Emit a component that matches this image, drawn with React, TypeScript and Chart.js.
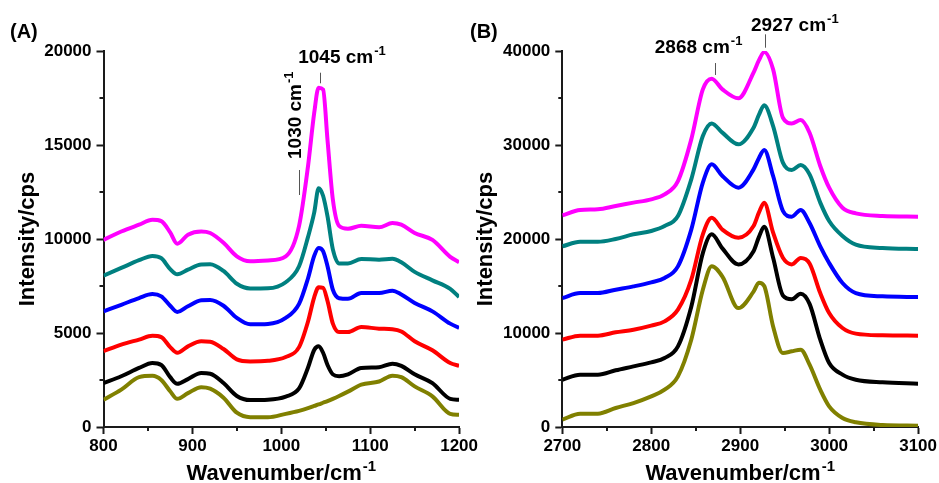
import React, { useEffect, useRef } from "react";
import { Chart, registerables } from "chart.js";

Chart.register(...registerables);

const FONT = "'Liberation Sans', Arial, Helvetica, sans-serif";
const AXIS_COLOR = "#1a1a1a";

// ---------- Panel A (800–1200 cm-1) ----------
const wavenumberA = [800, 820, 840, 855, 865, 875, 883, 895, 910, 920, 935, 950, 965, 985, 1005, 1020, 1030, 1037, 1042, 1047, 1052, 1058, 1065, 1075, 1090, 1110, 1125, 1135, 1150, 1170, 1190, 1200];
const oliveA = [1450, 1990, 2650, 2720, 2500, 1900, 1500, 1800, 2120, 2040, 1560, 760, 520, 520, 700, 860, 1000, 1120, 1200, 1290, 1380, 1500, 1650, 1880, 2250, 2420, 2730, 2650, 2160, 1630, 700, 650];
const blackA = [2340, 2700, 3140, 3400, 3300, 2650, 2300, 2550, 2870, 2830, 2340, 1650, 1430, 1450, 1620, 2050, 3150, 4100, 4290, 3950, 3300, 2800, 2700, 2800, 3140, 3180, 3370, 3250, 2800, 2330, 1500, 1450];
const redA = [4030, 4380, 4650, 4850, 4780, 4250, 3950, 4290, 4560, 4540, 4150, 3600, 3490, 3520, 3720, 4250, 5600, 6900, 7430, 7400, 6700, 5500, 5050, 5050, 5320, 5230, 5200, 5080, 4560, 4080, 3400, 3260];
const blueA = [6150, 6500, 6860, 7070, 6950, 6450, 6120, 6420, 6740, 6760, 6450, 5800, 5460, 5480, 5800, 6550, 7900, 9100, 9520, 9350, 8550, 7300, 6850, 6820, 7130, 7130, 7250, 7050, 6600, 6150, 5500, 5270];
const tealA = [8050, 8460, 8870, 9100, 8980, 8400, 8120, 8370, 8650, 8660, 8300, 7620, 7370, 7380, 7700, 8550, 10100, 11400, 12700, 12300, 11200, 9450, 8700, 8700, 8940, 8900, 8950, 8760, 8250, 7800, 7350, 6920];
const magentaA = [9950, 10400, 10760, 11020, 10950, 10350, 9750, 10230, 10400, 10320, 9800, 9080, 8820, 8860, 9080, 10700, 13850, 16700, 18050, 17950, 15260, 12100, 10700, 10550, 10700, 10620, 10850, 10760, 10320, 9950, 9050, 8760];

// ---------- Panel B (2700–3100 cm-1) ----------
const wavenumberB = [2700, 2720, 2740, 2760, 2780, 2800, 2815, 2830, 2845, 2858, 2868, 2880, 2898, 2915, 2921, 2927, 2937, 2948, 2958, 2968, 2978, 2990, 3000, 3015, 3030, 3060, 3100];
const oliveB = [780, 1420, 1420, 2020, 2550, 3260, 3970, 5390, 9290, 14600, 17100, 16000, 12650, 14400, 15350, 15000, 10700, 7870, 8050, 8230, 6630, 3970, 2200, 960, 500, 210, 140];
const blackB = [5030, 5570, 5570, 6030, 6450, 6880, 7340, 8580, 12800, 18500, 20500, 19000, 17300, 18700, 20200, 21300, 18000, 14000, 13600, 14180, 13100, 9290, 6800, 5570, 5030, 4750, 4610];
const redB = [9290, 9720, 9720, 10070, 10350, 10780, 11240, 12480, 15670, 20500, 22270, 21000, 20140, 21380, 22800, 23860, 20670, 18000, 17300, 17980, 17400, 14250, 12130, 10530, 9930, 9750, 9720];
const blueB = [13720, 14250, 14250, 14610, 14960, 15390, 15850, 17090, 21000, 26000, 27940, 26700, 25460, 27410, 28600, 29470, 26700, 23000, 22380, 23090, 21700, 19220, 17450, 15320, 14250, 13900, 13830];
const tealB = [19220, 19700, 19700, 20000, 20500, 20850, 21380, 22450, 26350, 30960, 32300, 31310, 30070, 31840, 33200, 34220, 32020, 28120, 27340, 27870, 26880, 23870, 21920, 20320, 19400, 19040, 18940];
const magentaB = [22520, 23090, 23160, 23510, 23870, 24220, 24750, 26170, 30600, 35920, 37060, 35920, 34970, 37700, 39000, 39890, 38050, 32900, 32300, 32660, 31310, 27770, 25460, 23330, 22730, 22450, 22380];

const seriesColors = ["#808000", "#000000", "#FF0000", "#0000FF", "#008080", "#FF00FF"];

// Axis ranges / ticks
const xRangeA = [800, 1200];
const xStepA = 100;
const yRangeA = [0, 20000];
const yStepA = 5000;
const xRangeB = [2700, 3100];
const xStepB = 100;
const yRangeB = [0, 40000];
const yStepB = 10000;

// Annotations (positions in data units)
type Note = { text: string; sup: string; tx: number; ty: number; rotated: boolean; lx: number; ly1: number; ly2: number };
const notesA: Note[] = [
  { text: "1045 cm", sup: "-1", tx: 1019, ty: 19345, rotated: false, lx: 1043.6, ly1: 18845, ly2: 18282 },
  { text: "1030 cm", sup: "-1", tx: 1021.9, ty: 14255, rotated: true, lx: 1020, ly1: 13670, ly2: 12340 },
];
const notesB: Note[] = [
  { text: "2868 cm", sup: "-1", tx: 2804, ty: 39755, rotated: false, lx: 2872, ly1: 38720, ly2: 37450 },
  { text: "2927 cm", sup: "-1", tx: 2912.2, ty: 42128, rotated: false, lx: 2927.4, ly1: 41775, ly2: 40350 },
];

function drawSup(ctx: CanvasRenderingContext2D, base: string, sup: string, x: number, y: number, size: number, supSize: number, align: "left" | "center") {
  ctx.textBaseline = "alphabetic";
  ctx.textAlign = "left";
  ctx.font = `bold ${size}px ${FONT}`;
  const w1 = ctx.measureText(base).width;
  ctx.font = `bold ${supSize}px ${FONT}`;
  const w2 = ctx.measureText(sup).width;
  const x0 = align === "center" ? x - (w1 + w2 + 1) / 2 : x;
  ctx.font = `bold ${size}px ${FONT}`;
  ctx.fillText(base, x0, y);
  ctx.font = `bold ${supSize}px ${FONT}`;
  ctx.fillText(sup, x0 + w1 + 1, y - size * 0.42);
}

type PanelCfg = {
  label: string;
  wn: number[];
  series: number[][];
  xRange: number[];
  xStep: number;
  yRange: number[];
  yStep: number;
  yAxisWidth: number;
  padRight: number;
  yTitleX: number;
  notes: Note[];
};

function makeChart(canvas: HTMLCanvasElement, cfg: PanelCfg) {
  const decor = {
    id: "decor",
    afterDraw(chart: any) {
      const ctx: CanvasRenderingContext2D = chart.ctx;
      const xs = chart.scales.x;
      const ys = chart.scales.y;
      const area = chart.chartArea;
      ctx.save();
      // minor ticks
      ctx.strokeStyle = AXIS_COLOR;
      ctx.lineWidth = 2;
      ctx.beginPath();
      for (let v = cfg.xRange[0] + cfg.xStep / 2; v < cfg.xRange[1]; v += cfg.xStep) {
        const px = Math.round(xs.getPixelForValue(v));
        ctx.moveTo(px, area.bottom);
        ctx.lineTo(px, area.bottom + 4);
      }
      for (let v = cfg.yRange[0] + cfg.yStep / 2; v < cfg.yRange[1]; v += cfg.yStep) {
        const py = Math.round(ys.getPixelForValue(v));
        ctx.moveTo(area.left, py);
        ctx.lineTo(area.left - 4, py);
      }
      ctx.stroke();

      ctx.fillStyle = "#000";
      // panel label
      ctx.font = `bold 20px ${FONT}`;
      ctx.textAlign = "left";
      ctx.textBaseline = "alphabetic";
      ctx.fillText(cfg.label, cfg.label === "(A)" ? 10 : 0, 38);

      // x title
      drawSup(ctx, "Wavenumber/cm", "-1", (area.left + area.right) / 2, 480, 22, 15, "center");

      // y title
      ctx.save();
      ctx.translate(cfg.yTitleX, (area.top + area.bottom) / 2);
      ctx.rotate(-Math.PI / 2);
      ctx.font = `bold 22px ${FONT}`;
      ctx.textAlign = "center";
      ctx.textBaseline = "middle";
      ctx.fillText("Intensity/cps", 0, 0);
      ctx.restore();

      // annotations
      for (const n of cfg.notes) {
        const tx = xs.getPixelForValue(n.tx);
        const ty = ys.getPixelForValue(n.ty);
        if (n.rotated) {
          ctx.save();
          ctx.translate(tx, ty);
          ctx.rotate(-Math.PI / 2);
          drawSup(ctx, n.text, n.sup, 0, 0, 19, 13, "left");
          ctx.restore();
        } else {
          drawSup(ctx, n.text, n.sup, tx, ty, 19, 13, "left");
        }
        const lx = Math.round(xs.getPixelForValue(n.lx)) + 0.5;
        ctx.strokeStyle = "#555";
        ctx.lineWidth = 1;
        ctx.beginPath();
        ctx.moveTo(lx, ys.getPixelForValue(n.ly1));
        ctx.lineTo(lx, ys.getPixelForValue(n.ly2));
        ctx.stroke();
      }
      ctx.restore();
    },
  };

  const tickFont = { family: FONT, size: 17, weight: "bold" as const };

  return new Chart(canvas, {
    type: "line",
    data: {
      datasets: cfg.series.map((arr, i) => ({
        data: cfg.wn.map((x, j) => ({ x, y: arr[j] })),
        borderColor: seriesColors[i],
        backgroundColor: seriesColors[i],
        borderWidth: 4,
        pointRadius: 0,
        fill: false,
        cubicInterpolationMode: "monotone" as const,
      })),
    },
    options: {
      responsive: false,
      animation: false,
      events: [],
      layout: { padding: { left: 0, right: cfg.padRight, top: 51, bottom: 0 } },
      plugins: { legend: { display: false }, tooltip: { enabled: false }, title: { display: false } },
      scales: {
        x: {
          type: "linear",
          min: cfg.xRange[0],
          max: cfg.xRange[1],
          ticks: { stepSize: cfg.xStep, font: tickFont, color: "#000", padding: 2, maxRotation: 0, callback: (v: any) => String(v) },
          grid: { display: true, drawOnChartArea: false, drawTicks: true, tickLength: 7, tickWidth: 2, tickColor: AXIS_COLOR },
          border: { display: true, color: AXIS_COLOR, width: 2 },
          afterFit: (s: any) => { s.height = 56; },
        },
        y: {
          type: "linear",
          min: cfg.yRange[0],
          max: cfg.yRange[1],
          ticks: { stepSize: cfg.yStep, font: tickFont, color: "#000", padding: 5, callback: (v: any) => String(v) },
          grid: { display: true, drawOnChartArea: false, drawTicks: true, tickLength: 7, tickWidth: 2, tickColor: AXIS_COLOR },
          border: { display: true, color: AXIS_COLOR, width: 2 },
          afterFit: (s: any) => { s.width = cfg.yAxisWidth; },
        },
      },
    },
    plugins: [decor],
  } as any);
}

export default function App() {
  const refA = useRef<HTMLCanvasElement>(null);
  const refB = useRef<HTMLCanvasElement>(null);

  useEffect(() => {
    const a = makeChart(refA.current!, {
      label: "(A)",
      wn: wavenumberA,
      series: [oliveA, blackA, redA, blueA, tealA, magentaA],
      xRange: xRangeA,
      xStep: xStepA,
      yRange: yRangeA,
      yStep: yStepA,
      yAxisWidth: 103.5,
      padRight: 19.5,
      yTitleX: 28,
      notes: notesA,
    });
    const b = makeChart(refB.current!, {
      label: "(B)",
      wn: wavenumberB,
      series: [oliveB, blackB, redB, blueB, tealB, magentaB],
      xRange: xRangeB,
      xStep: xStepB,
      yRange: yRangeB,
      yStep: yStepB,
      yAxisWidth: 92.3,
      padRight: 20,
      yTitleX: 16,
      notes: notesB,
    });
    return () => {
      a.destroy();
      b.destroy();
    };
  }, []);

  return (
    <div style={{ position: "absolute", left: 0, top: 0, width: 939, height: 483, background: "#fff", overflow: "hidden" }}>
      <canvas ref={refA} width={480} height={483} style={{ position: "absolute", left: 0, top: 0 }} />
      <canvas ref={refB} width={469} height={483} style={{ position: "absolute", left: 470, top: 0 }} />
    </div>
  );
}
